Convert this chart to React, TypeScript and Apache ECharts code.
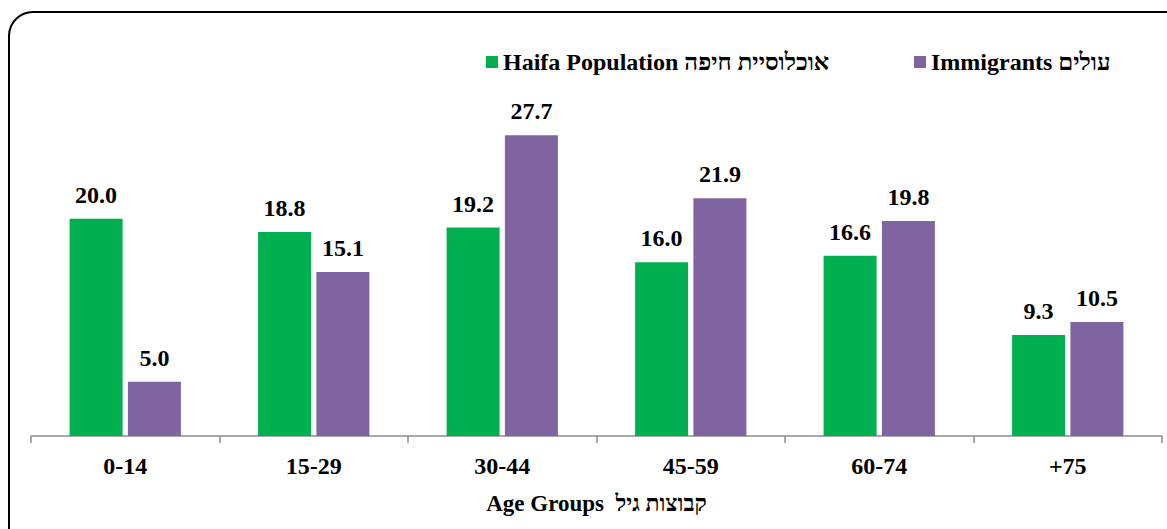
import React, { useEffect, useRef } from "react";
import * as echarts from "echarts";

const categories = ["0-14", "15-29", "30-44", "45-59", "60-74", "+75"];
const haifaPopulation = [20.0, 18.8, 19.2, 16.0, 16.6, 9.3];
const immigrants = [5.0, 15.1, 27.7, 21.9, 19.8, 10.5];
const seriesNames = ["Haifa Population אוכלוסיית חיפה", "Immigrants עולים"];
const axisTitle = "Age Groups  קבוצות גיל";

const FONT = '"Liberation Serif", "Times New Roman", serif';

export default function App() {
  const ref = useRef<HTMLDivElement>(null);
  useEffect(() => {
    if (!ref.current) return;
    const chart = echarts.init(ref.current, null, { renderer: "svg" });
    const label = {
      show: true,
      position: "top",
      distance: 12,
      formatter: (p: any) => Number(p.value).toFixed(1),
      fontFamily: FONT,
      fontWeight: "bold",
      fontSize: 24,
      color: "#000",
    };
    const legendBase = {
      top: 45,
      itemWidth: 12,
      itemHeight: 12,
      itemGap: 5,
      icon: "rect",
      textStyle: {
        fontFamily: FONT,
        fontWeight: "bold",
        fontSize: 24,
        lineHeight: 24,
        color: "#000",
        padding: [0, 0, 0, 0],
      },
    };
    chart.setOption({
      animation: false,
      backgroundColor: "#fff",
      graphic: [
        {
          type: "rect",
          shape: { x: 9, y: 12, width: 1220, height: 580, r: 24 },
          style: { fill: "none", stroke: "#000", lineWidth: 2 },
          z: 100,
          silent: true,
        },
      ],
      legend: [
        { ...legendBase, left: 481, data: [seriesNames[0]] },
        { ...legendBase, left: 909, data: [seriesNames[1]] },
      ],
      grid: { left: 31, right: 5, top: 56, bottom: 93, containLabel: false },
      xAxis: {
        type: "category",
        data: categories,
        axisLine: { lineStyle: { color: "#8c8c8c", width: 1.5 } },
        axisTick: { show: true, length: 7, lineStyle: { color: "#8c8c8c", width: 1.5 } },
        axisLabel: { margin: 18, fontFamily: FONT, fontWeight: "bold", fontSize: 24, color: "#000" },
        name: axisTitle,
        nameLocation: "middle",
        nameGap: 56,
        nameTextStyle: { fontFamily: FONT, fontWeight: "bold", fontSize: 23, color: "#000" },
      },
      yAxis: {
        type: "value",
        min: 0,
        max: 35,
        show: false,
        splitLine: { show: false },
      },
      series: [
        {
          name: seriesNames[0],
          type: "bar",
          data: haifaPopulation,
          barWidth: 53,
          barGap: "10%",
          itemStyle: { color: "#00B050" },
          label,
        },
        {
          name: seriesNames[1],
          type: "bar",
          data: immigrants,
          barWidth: 53,
          itemStyle: { color: "#8064A2" },
          label,
        },
      ],
    });
    return () => chart.dispose();
  }, []);
  return (
    <div
      ref={ref}
      style={{ position: "fixed", left: 0, top: 0, width: 1167, height: 529 }}
    />
  );
}
